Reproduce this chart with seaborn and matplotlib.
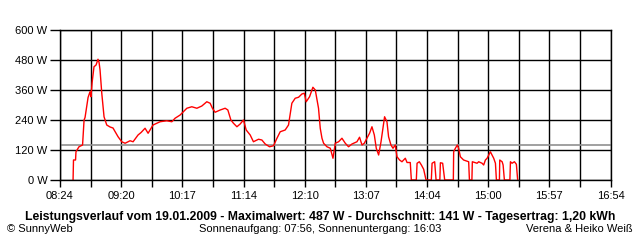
import matplotlib
matplotlib.use("Agg")
import matplotlib.pyplot as plt
import seaborn as sns
import pandas as pd
import numpy as np

# time in minutes since midnight, power in W
minutes = [516.1, 516.5, 518.4, 518.8, 521.6, 524.9, 526.3, 527.2, 529.0, 530.0,
           531.8, 532.7, 533.7, 535.5, 537.4, 539.2, 540.2, 541.1, 542.7, 544.8,
           547.3, 550.4, 553.1, 557.8, 561.2, 564.3, 568.9, 571.7, 576.3, 579.1,
           582.8, 585.6, 590.2, 596.7, 602.9, 607.6, 610.6, 615.3, 621.5, 626.1,
           630.8, 635.4, 640.0, 643.1, 645.2, 647.7, 652.4, 657.0, 659.5, 662.3,
           664.7, 667.9, 670.9, 674.0, 676.5, 680.2, 683.2, 687.9, 691.0, 694.1,
           698.1, 701.8, 705.0, 708.0, 712.6, 715.7, 718.8, 721.9, 725.0, 728.1,
           730.3, 732.1, 735.2, 738.3, 740.5, 743.5, 745.1, 746.7, 748.2, 751.3,
           754.4, 756.9, 759.0, 762.1, 765.2, 768.3, 771.3, 774.5, 779.1, 781.5,
           783.8, 785.9, 788.4, 790.8, 793.0, 795.2, 797.0, 799.2, 801.4, 803.2,
           804.7, 806.9, 808.4, 810.6, 812.5, 814.6, 816.2, 818.6, 820.8, 823.9,
           825.5, 828.5, 829.5, 834.1, 834.8, 836.9, 838.8, 840.9, 843.1, 848.0,
           848.7, 851.1, 852.4, 855.9, 856.4, 858.5, 860.4, 868.4, 868.7, 870.3,
           872.1, 873.3, 874.9, 877.9, 881.1, 882.6, 883.3, 885.6, 886.0, 890.4,
           891.9, 895.0, 896.5, 898.1, 899.7, 901.2, 902.7, 904.3, 905.8, 907.4,
           908.3, 911.1, 911.4, 913.6, 914.5, 915.7, 920.8, 921.3, 922.8, 925.0,
           926.8, 928.0]
power = [0, 80, 80, 113, 133, 140, 240, 250, 300, 330,
         353, 333, 388, 453, 460, 483, 470, 440, 347, 253,
         220, 212, 208, 173, 153, 147, 157, 153, 180, 190,
         207, 187, 220, 233, 237, 233, 247, 260, 287, 293,
         287, 296, 313, 307, 287, 271, 280, 287, 280, 240,
         227, 213, 224, 240, 200, 180, 153, 163, 160, 144,
         133, 137, 167, 193, 200, 220, 307, 327, 331, 344,
         347, 313, 333, 371, 360, 287, 207, 167, 147, 133,
         127, 87, 147, 153, 167, 147, 133, 144, 153, 171,
         140, 147, 167, 187, 213, 180, 127, 100, 153, 207,
         253, 233, 173, 140, 127, 140, 93, 80, 73, 87,
         70, 70, 0, 0, 67, 73, 60, 43, 0, 0,
         67, 73, 0, 0, 69, 67, 0, 0, 113, 127,
         140, 127, 93, 80, 75, 73, 0, 0, 73, 67,
         73, 67, 60, 80, 87, 100, 113, 100, 87, 67,
         0, 0, 80, 73, 60, 0, 0, 73, 67, 73,
         63, 0]

average_w = 141
x_labels = ["08:24", "09:20", "10:17", "11:14", "12:10", "13:07", "14:04",
            "15:00", "15:57", "16:54"]
y_ticks = [0, 120, 240, 360, 480, 600]
title = ("Leistungsverlauf vom 19.01.2009 - Maximalwert: 487 W - "
         "Durchschnitt: 141 W - Tagesertrag: 1,20 kWh")

df = pd.DataFrame({"t": minutes, "p": power})

plt.rcParams['font.family'] = ['Liberation Sans', 'DejaVu Sans']
fig = plt.figure(figsize=(6.4, 2.4), dpi=100)
ax = fig.add_axes([60 / 640, 60 / 240, 550.5 / 640, 150 / 240])

t0, t1 = 504, 1014
ax.set_xlim(t0, t1)
ax.set_ylim(0, 600)

major = np.linspace(t0, t1, len(x_labels))
minor = (major[:-1] + major[1:]) / 2
ax.set_xticks(major)
ax.set_xticklabels(x_labels, fontsize=8)
ax.set_xticks(minor, minor=True)
ax.set_yticks(y_ticks)
ax.set_yticklabels([f"{v} W" for v in y_ticks], fontsize=8)

ax.grid(True, which="both", color="black", linewidth=1.0)
ax.tick_params(axis="x", which="both", direction="out", length=5, width=1,
               color="black", pad=3)
ax.tick_params(axis="y", direction="out", length=7, width=1, color="black", pad=2)
for s in ax.spines.values():
    s.set_linewidth(1.0)
    s.set_color("black")

ax.axhline(average_w, color="#909090", linewidth=1.2, zorder=1.8)

sns.lineplot(data=df, x="t", y="p", ax=ax, color="#ff0000", linewidth=1.0,
             estimator=None, sort=False, zorder=2)
ax.set_xlabel("")
ax.set_ylabel("")

fig.text(0.5, 1 - 217 / 240, title, ha="center", va="center",
         fontsize=8.8, fontweight="bold")
fig.text(7 / 640, 1 - 229 / 240, "© SunnyWeb", ha="left", va="center", fontsize=8)
fig.text(320 / 640, 1 - 229 / 240, "Sonnenaufgang: 07:56, Sonnenuntergang: 16:03",
         ha="center", va="center", fontsize=8)
fig.text(633 / 640, 1 - 229 / 240, "Verena & Heiko Weiß", ha="right",
         va="center", fontsize=8)

fig.savefig("out.png", dpi=100)
